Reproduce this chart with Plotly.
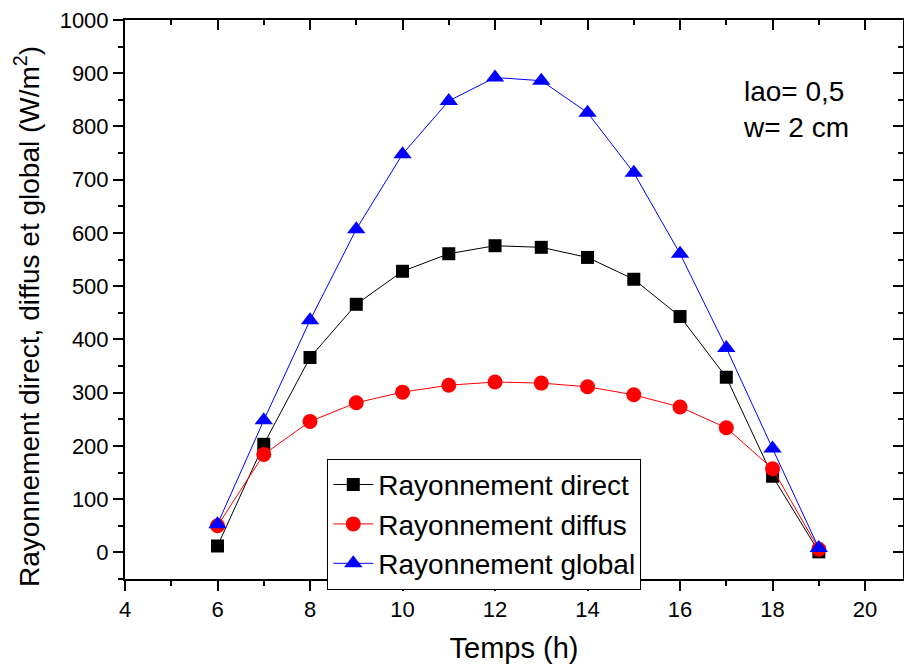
import plotly.graph_objects as go

# Hourly solar radiation (W/m²)
hours = [6, 7, 8, 9, 10, 11, 12, 13, 14, 15, 16, 17, 18, 19]
direct = [12, 203, 366, 466, 528, 561, 576, 573, 554, 513, 443, 329, 143, 1]
diffus = [50, 184, 246, 281, 301, 314, 320, 318, 311, 296, 273, 234, 157, 6]
global_ = [53, 248, 436, 607, 748, 848, 892, 886, 826, 713, 561, 384, 195, 8]

x_range = [4, 20.82]
y_range = [-50, 1000]
font_family = "Liberation Sans, Arial, sans-serif"

fig = go.Figure()

series = [
    ("Rayonnement direct", direct, "black", "square", 13),
    ("Rayonnement diffus", diffus, "red", "circle", 15),
    ("Rayonnement global", global_, "blue", "triangle-up", 16),
]
for name, values, color, symbol, size in series:
    fig.add_trace(go.Scatter(
        x=hours, y=values, name=name, mode="lines+markers",
        line=dict(color=color, width=1),
        marker=dict(symbol=symbol, size=size, color=color,
                    line=dict(width=0)),
    ))

# helper trace so the mirrored top/right axes are drawn
fig.add_trace(go.Scatter(x=[None], y=[None], xaxis="x2", yaxis="y2",
                         showlegend=False, hoverinfo="skip"))

axis_common = dict(showgrid=False, zeroline=False, showline=True,
                   linecolor="black", linewidth=2, tickcolor="black",
                   tickwidth=2, ticklen=10)

fig.update_layout(
    width=904, height=668,
    margin=dict(l=125, r=1, t=20, b=89),
    plot_bgcolor="white", paper_bgcolor="white",
    font=dict(family=font_family, color="black"),
    showlegend=True,
    xaxis=dict(
        range=x_range, dtick=2, tick0=4, ticks="outside",
        tickfont=dict(size=22),
        title=dict(text="Temps (h)", font=dict(size=29), standoff=16),
        minor=dict(ticks="outside", ticklen=5, dtick=1, tick0=4,
                   tickwidth=2, tickcolor="black"),
        **axis_common,
    ),
    yaxis=dict(
        range=y_range, dtick=100, tick0=0, ticks="outside",
        tickfont=dict(size=22),
        minor=dict(ticks="outside", ticklen=5, dtick=50, tick0=0,
                   tickwidth=2, tickcolor="black"),
        **axis_common,
    ),
    xaxis2=dict(
        overlaying="x", side="top", anchor="y", range=x_range,
        dtick=2, tick0=4, ticks="inside", showticklabels=False,
        minor=dict(ticks="inside", ticklen=5, dtick=1, tick0=4,
                   tickwidth=2, tickcolor="black"),
        **axis_common,
    ),
    yaxis2=dict(
        overlaying="y", side="right", anchor="x", range=y_range,
        dtick=100, tick0=0, ticks="inside", showticklabels=False,
        minor=dict(ticks="inside", ticklen=5, dtick=50, tick0=0,
                   tickwidth=2, tickcolor="black"),
        **axis_common,
    ),
    legend=dict(
        x=0.26, y=0.215, xanchor="left", yanchor="top",
        bgcolor="white", bordercolor="black", borderwidth=1,
        font=dict(size=28), itemwidth=40, tracegroupgap=0,
    ),
    annotations=[
        dict(text="Rayonnement direct, diffus et global (W/m<sup>2</sup>)",
             textangle=-90, xref="paper", yref="paper",
             x=(27 - 125) / 778, y=(579 - 317) / 559,
             xanchor="center", yanchor="middle", showarrow=False,
             font=dict(size=28)),
        dict(text="lao= 0,5<br>w= 2 cm", xref="paper", yref="paper",
             x=(741 - 125) / 778, y=(579 - 74) / 559,
             xanchor="left", yanchor="top", align="left",
             showarrow=False, font=dict(size=28)),
    ],
)

fig.write_html("out.html")
